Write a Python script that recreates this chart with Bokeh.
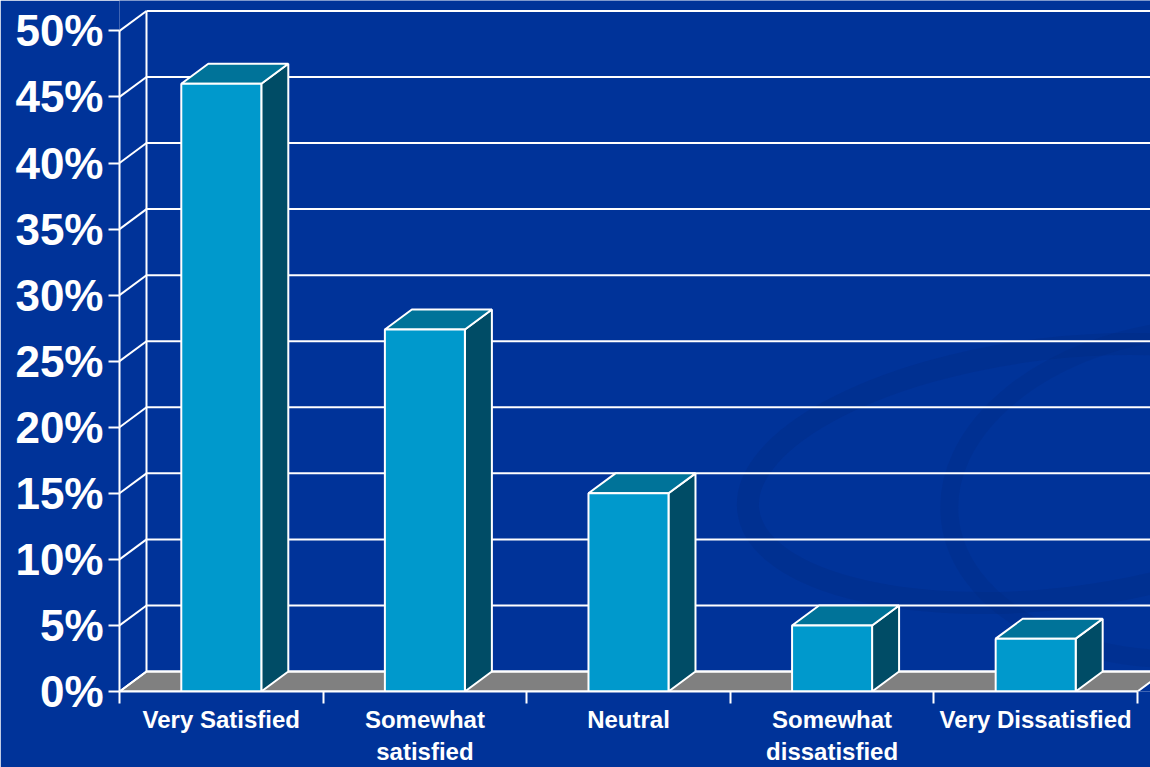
from bokeh.plotting import figure
from bokeh.models import Range1d, FixedTicker
from bokeh.embed import file_html
from bokeh.resources import INLINE

# ---- data ----
categories = ["Very Satisfied", "Somewhat\nsatisfied", "Neutral",
              "Somewhat\ndissatisfied", "Very Dissatisfied"]
values = [46.0, 27.4, 15.0, 5.0, 4.0]
y_ticks = [0, 5, 10, 15, 20, 25, 30, 35, 40, 45, 50]
y_tick_labels = ["0%", "5%", "10%", "15%", "20%", "25%", "30%", "35%",
                 "40%", "45%", "50%"]

# ---- style / geometry ----
BG = "#003399"
FRONT = "#0099CC"
SIDE = "#004C66"
TOP = "#007399"
FLOOR = "#808080"
WHITE = "#FFFFFF"
SWOOSH = "#00287a"
FONT = "Liberation Sans"

X_END = 5.064
Y_END = 52.3
DX = 0.1326    # depth offset in category units
DY = 1.51      # depth offset in percent units
BAR_W = 0.393

n = len(categories)

p = figure(width=1150, height=767,
           x_range=Range1d(0, X_END), y_range=Range1d(0, Y_END),
           output_backend="svg", toolbar_location=None,
           min_border_left=119, min_border_right=0,
           min_border_top=0, min_border_bottom=76,
           background_fill_color=BG, border_fill_color=BG,
           outline_line_color=None)
p.xgrid.visible = False
p.ygrid.visible = False

# faint background swoosh (decoration)
p.ellipse(x=[4.6], y=[16.5], width=[620], height=[250], angle=[0.12],
          width_units="screen", height_units="screen",
          fill_color=None, line_color=SWOOSH, line_width=22, line_alpha=0.25)
p.ellipse(x=[5.3], y=[15.0], width=[500], height=[330], angle=[0.1],
          width_units="screen", height_units="screen",
          fill_color=None, line_color=SWOOSH, line_width=18, line_alpha=0.2)

# floor
p.patch([0, n, n + DX, DX], [0, 0, DY, DY],
        fill_color=FLOOR, line_color=WHITE, line_width=2)

# back wall gridlines
p.segment(x0=[DX] * len(y_ticks), y0=[v + DY for v in y_ticks],
          x1=[X_END + 1] * len(y_ticks), y1=[v + DY for v in y_ticks],
          line_color=WHITE, line_width=2)
# side wall diagonals
p.segment(x0=[0] * len(y_ticks), y0=y_ticks,
          x1=[DX] * len(y_ticks), y1=[v + DY for v in y_ticks],
          line_color=WHITE, line_width=2)
# back wall left edge
p.segment(x0=[DX], y0=[DY], x1=[DX], y1=[y_ticks[-1] + DY],
          line_color=WHITE, line_width=2)

# bars
centers = [i + 0.5 for i in range(n)]
lefts = [c - BAR_W / 2 for c in centers]
rights = [c + BAR_W / 2 for c in centers]

side_xs = [[r, r + DX, r + DX, r] for r in rights]
side_ys = [[0, DY, v + DY, v] for v in values]
p.patches(side_xs, side_ys, fill_color=SIDE, line_color=WHITE, line_width=2)

top_xs = [[l, r, r + DX, l + DX] for l, r in zip(lefts, rights)]
top_ys = [[v, v, v + DY, v + DY] for v in values]
p.patches(top_xs, top_ys, fill_color=TOP, line_color=WHITE, line_width=2)

p.quad(left=lefts, right=rights, bottom=[0] * n, top=values,
       fill_color=FRONT, line_color=WHITE, line_width=2)

# y axis
ya = p.yaxis[0]
ya.ticker = FixedTicker(ticks=y_ticks)
ya.bounds = (0, 50)
ya.major_label_overrides = {t: lab for t, lab in zip(y_ticks, y_tick_labels)}
ya.axis_line_color = WHITE
ya.axis_line_width = 2
ya.major_tick_line_color = WHITE
ya.major_tick_line_width = 2
ya.major_tick_out = 11
ya.major_tick_in = 0
ya.minor_tick_line_color = None
ya.major_label_text_color = WHITE
ya.major_label_text_font = FONT
ya.major_label_text_font_style = "bold"
ya.major_label_text_font_size = "44px"
ya.major_label_standoff = 5

# x axis
xa = p.xaxis[0]
xa.ticker = FixedTicker(ticks=centers, minor_ticks=list(range(n + 1)))
xa.bounds = (0, n)
xa.major_label_overrides = {c: lab for c, lab in zip(centers, categories)}
xa.axis_line_color = WHITE
xa.axis_line_width = 2
xa.major_tick_out = 0
xa.major_tick_in = 0
xa.major_tick_line_color = None
xa.minor_tick_line_color = WHITE
xa.minor_tick_line_width = 2
xa.minor_tick_out = 12
xa.minor_tick_in = 0
xa.major_label_text_color = WHITE
xa.major_label_text_font = FONT
xa.major_label_text_font_style = "bold"
xa.major_label_text_font_size = "24px"
xa.major_label_text_line_height = 1.2
xa.major_label_standoff = 2

open("out.html", "w").write(file_html(p, INLINE))
